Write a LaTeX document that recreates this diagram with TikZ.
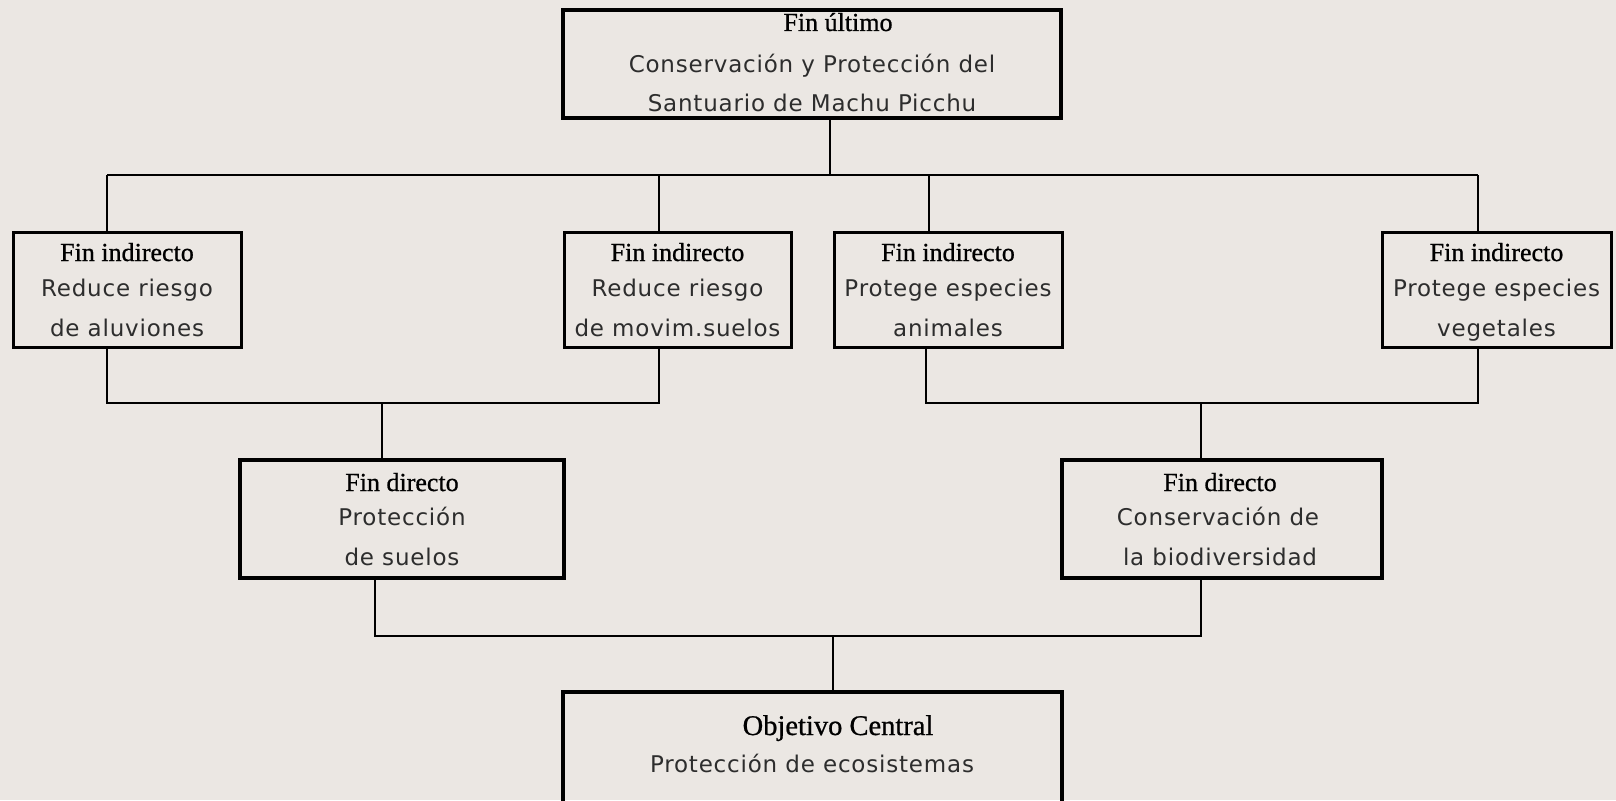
\documentclass[tikz,border=0pt]{standalone}
\usepackage{fontspec}
\newfontfamily\ttlfont[FakeBold=0.8]{Liberation Serif}
\newfontfamily\bodyfont[LetterSpace=3.5]{DejaVu Sans}
\definecolor{bg}{RGB}{235,231,227}
\definecolor{txt}{RGB}{45,45,45}
\begin{document}
\begin{tikzpicture}[x=1pt,y=-1pt,
 thickbox/.style={draw=black, line width=4pt, inner sep=0pt, outer sep=0pt, rectangle},
 thinbox/.style={draw=black, line width=3pt, inner sep=0pt, outer sep=0pt, rectangle},
 conn/.style={line width=2pt, draw=black},
 ttl/.style={font=\ttlfont\fontsize{26}{30}\selectfont, anchor=base, inner sep=0pt, text=black},
 body/.style={font=\bodyfont\fontsize{23}{27}\selectfont, anchor=base, inner sep=0pt, text=txt}]
\fill[bg] (0,0) rectangle (1616,800);
\useasboundingbox (0,0) rectangle (1616,800);

% boxes
\node[thickbox, minimum width=498pt, minimum height=108pt] (top) at (812,64) {};
\node[thinbox, minimum width=228pt, minimum height=115pt] (i1) at (127,289.5) {};
\node[thinbox, minimum width=227pt, minimum height=115pt] (i2) at (677.5,289.5) {};
\node[thinbox, minimum width=228pt, minimum height=115pt] (i3) at (948,289.5) {};
\node[thinbox, minimum width=229pt, minimum height=115pt] (i4) at (1496.5,289.5) {};
\node[thickbox, minimum width=324pt, minimum height=118pt] (d1) at (402,519) {};
\node[thickbox, minimum width=320pt, minimum height=118pt] (d2) at (1222,519) {};
\node[thickbox, minimum width=499pt, minimum height=116pt] (obj) at (812.5,750) {};

% texts
\node[ttl] (topt) at (838,31) {Fin último};
\node[body] (topb1) at (812,72) {Conservación y Protección del};
\node[body] (topb2) at (812,111) {Santuario de Machu Picchu};

\node[ttl] (i1t) at (127,261) {Fin indirecto};
\node[body] (i1b1) at (127,296) {Reduce riesgo};
\node[body] (i1b2) at (127,336) {de aluviones};

\node[ttl] (i2t) at (677.5,261) {Fin indirecto};
\node[body] (i2b1) at (677.5,296) {Reduce riesgo};
\node[body] (i2b2) at (677.5,336) {de movim.suelos};

\node[ttl] (i3t) at (948,261) {Fin indirecto};
\node[body] (i3b1) at (948,296) {Protege especies};
\node[body] (i3b2) at (948,336) {animales};

\node[ttl] (i4t) at (1496.5,261) {Fin indirecto};
\node[body] (i4b1) at (1496.5,296) {Protege especies};
\node[body] (i4b2) at (1496.5,336) {vegetales};

\node[ttl] (d1t) at (402,491) {Fin directo};
\node[body] (d1b1) at (402,525) {Protección};
\node[body] (d1b2) at (402,565) {de suelos};

\node[ttl] (d2t) at (1220,491) {Fin directo};
\node[body] (d2b1) at (1218,525) {Conservación de};
\node[body] (d2b2) at (1220,565) {la biodiversidad};

\node[ttl, font=\ttlfont\fontsize{28.5}{32}\selectfont] (objt) at (838,735) {Objetivo Central};
\node[body] (objb) at (812,772) {Protección de ecosistemas};

% junction coordinates
\coordinate (j0) at (830,175);
\coordinate (hL) at (107,175);
\coordinate (hA) at (659,175);
\coordinate (hB) at (929,175);
\coordinate (hR) at (1478,175);

\coordinate (a1) at (107,403);
\coordinate (a2) at (659,403);
\coordinate (aj) at (382,403);
\coordinate (b1) at (926,403);
\coordinate (b2) at (1478,403);
\coordinate (bj) at (1201,403);

\coordinate (c1) at (375,636);
\coordinate (c2) at (1201,636);
\coordinate (cj) at (833,636);

% connectors
\draw[conn] (top.south -| j0) -- (j0);
\draw[conn] (hL) -- (hR);
\draw[conn] (hL) -- (i1.north -| hL);
\draw[conn] (hA) -- (i2.north -| hA);
\draw[conn] (hB) -- (i3.north -| hB);
\draw[conn] (hR) -- (i4.north -| hR);

\draw[conn] (i1.south -| a1) -- (a1) -- (a2) -- (i2.south -| a2);
\draw[conn] (aj) -- (d1.north -| aj);
\draw[conn] (i3.south -| b1) -- (b1) -- (b2) -- (i4.south -| b2);
\draw[conn] (bj) -- (d2.north -| bj);

\draw[conn] (d1.south -| c1) -- (c1) -- (c2) -- (d2.south -| c2);
\draw[conn] (cj) -- (obj.north -| cj);
\end{tikzpicture}
\end{document}
